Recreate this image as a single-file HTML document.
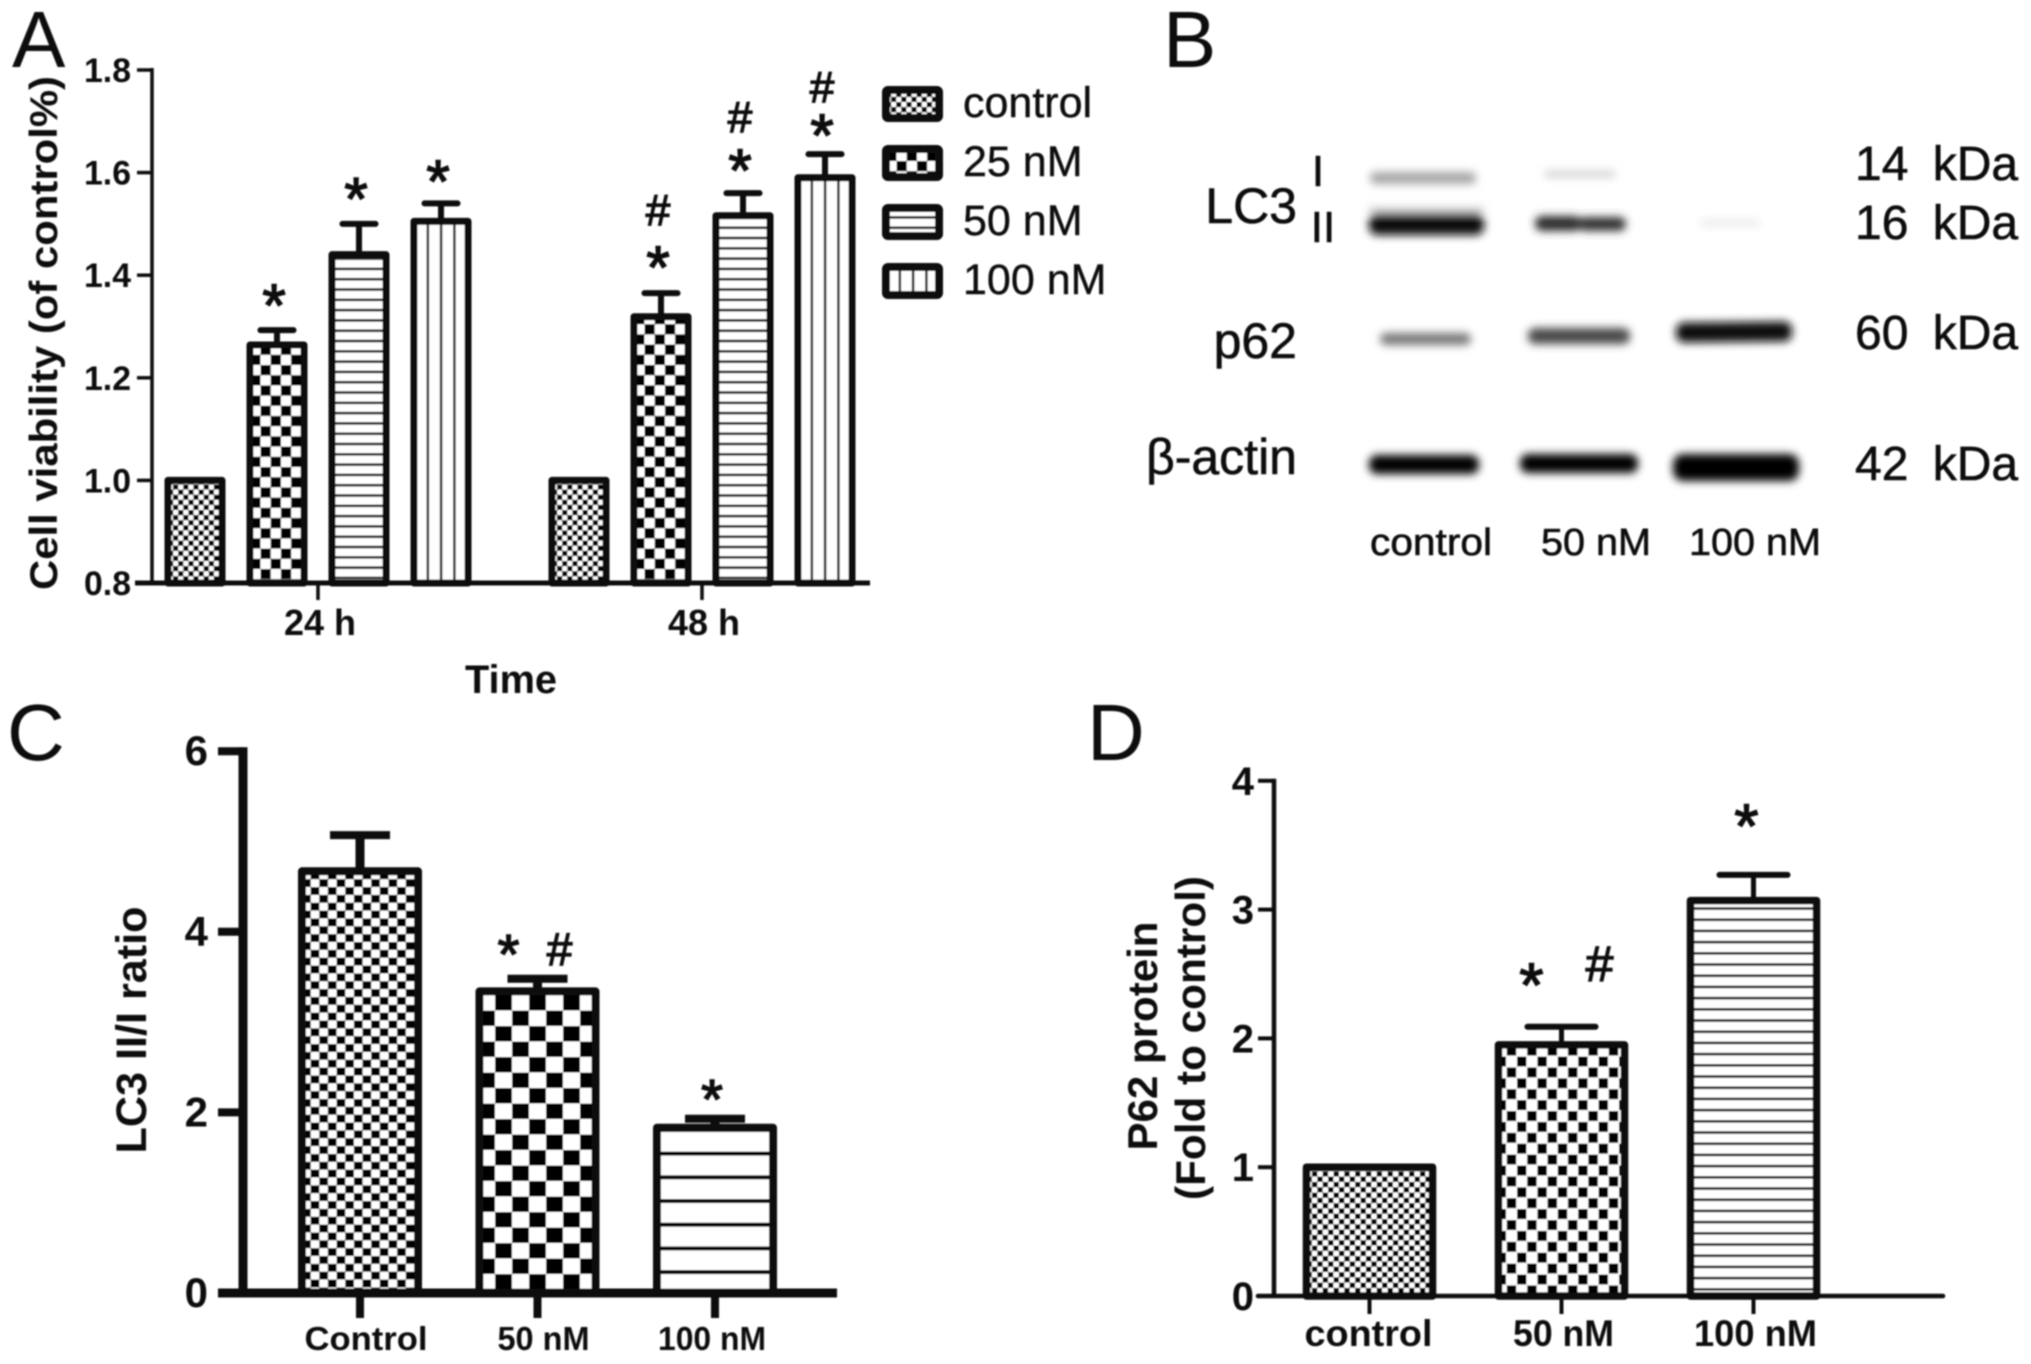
<!DOCTYPE html>
<html lang="en">
<head>
<meta charset="utf-8">
<title>Cell viability, LC3 and p62 figure</title>
<style>
html,body{margin:0;padding:0;background:#fff;}
svg{display:block;font-family:"Liberation Sans",sans-serif;}
</style>
</head>
<body>
<svg id="fig" xmlns="http://www.w3.org/2000/svg" width="2031" height="1364" viewBox="0 0 2031 1364">
<defs id="defs">
  <pattern id="a-fine" patternUnits="userSpaceOnUse" width="10.2" height="10.2"><rect width="10.2" height="10.2" fill="#fff"/><rect width="5.1" height="5.1" fill="#000"/><rect x="5.1" y="5.1" width="5.1" height="5.1" fill="#000"/></pattern>
  <pattern id="a-check" patternUnits="userSpaceOnUse" width="20.4" height="20.4" y="365"><rect width="20.4" height="20.4" fill="#fff"/><rect width="10.2" height="10.2" fill="#000"/><rect x="10.2" y="10.2" width="10.2" height="10.2" fill="#000"/></pattern>
  <pattern id="a-hline" patternUnits="userSpaceOnUse" width="10.3" height="10.3" y="236.7"><rect width="10.3" height="10.3" fill="#fff"/><rect width="10.3" height="2.6" fill="#222"/></pattern>
  <pattern id="a-vline" patternUnits="userSpaceOnUse" width="13.3" height="14"><rect width="13.3" height="14" fill="#fff"/><rect width="2.6" height="14" fill="#333"/></pattern>
  <pattern id="c-fine" patternUnits="userSpaceOnUse" width="17.3" height="15.7"><rect width="17.3" height="15.7" fill="#fff"/><rect width="8.65" height="7.85" fill="#000"/><rect x="8.65" y="7.85" width="8.65" height="7.85" fill="#000"/></pattern>
  <pattern id="c-check" patternUnits="userSpaceOnUse" width="34" height="31" y="995"><rect width="34" height="31" fill="#fff"/><rect width="17" height="15.5" fill="#000"/><rect x="17" y="15.5" width="17" height="15.5" fill="#000"/></pattern>
  <pattern id="c-hline" patternUnits="userSpaceOnUse" width="24" height="23.7" y="14"><rect width="24" height="23.7" fill="#fff"/><rect width="24" height="4" fill="#000"/></pattern>
  <pattern id="d-fine" patternUnits="userSpaceOnUse" width="10.8" height="10.6"><rect width="10.8" height="10.6" fill="#fff"/><rect width="5.4" height="5.3" fill="#000"/><rect x="5.4" y="5.3" width="5.4" height="5.3" fill="#000"/></pattern>
  <pattern id="d-check" patternUnits="userSpaceOnUse" width="20.4" height="21.8" y="1056"><rect width="20.4" height="21.8" fill="#fff"/><rect x="0.5" y="0.5" width="9.4" height="10" fill="#000"/><rect x="10.7" y="11.4" width="9.4" height="10" fill="#000"/></pattern>
  <pattern id="d-hline" patternUnits="userSpaceOnUse" width="11" height="11.2"><rect width="11" height="11.2" fill="#fff"/><rect width="11" height="2.6" fill="#222"/></pattern>
  <filter id="soft" filterUnits="userSpaceOnUse" x="0" y="0" width="2031" height="1364"><feGaussianBlur stdDeviation="0.7"/></filter>
  <filter id="band-blur" filterUnits="userSpaceOnUse" x="1300" y="100" width="560" height="420"><feGaussianBlur stdDeviation="4.2"/></filter>
</defs>
<rect width="2031" height="1364" fill="#fff"/>
<g id="root" filter="url(#soft)" fill="#111">
  <g font-size="80">
    <text x="12" y="67">A</text>
    <text x="1163" y="67">B</text>
    <text x="7" y="760">C</text>
    <text x="1087" y="760">D</text>
  </g>
  <g id="panel-a"></g>
  <g id="panel-a-legend"></g>
  <g id="panel-b">
    <g filter="url(#band-blur)">
      <rect x="1370" y="172" width="106" height="12" rx="5" fill="#a6a6a6"/>
      <rect x="1544" y="170" width="72" height="8" rx="4" fill="#d8d8d8"/>
      <rect x="1369" y="208" width="115" height="5" rx="2" fill="#bbb"/>
      <rect x="1369" y="214" width="115" height="21" rx="8" fill="#0c0c0c"/>
      <rect x="1535" y="216" width="46" height="15" rx="7" fill="#2c2c2c"/>
      <rect x="1578" y="217" width="48" height="14" rx="7" fill="#333"/>
      <rect x="1700" y="219" width="60" height="8" rx="3" fill="#eee"/>
      <rect x="1380" y="333" width="91" height="12" rx="6" fill="#777"/>
      <rect x="1528" y="328" width="102" height="16" rx="7" fill="#484848"/>
      <rect x="1676" y="322" width="116" height="20" rx="8" fill="#0c0c0c" transform="rotate(-0.6 1734 332)"/>
      <rect x="1369" y="455" width="110" height="19" rx="8" fill="#000"/>
      <rect x="1520" y="454" width="118" height="19" rx="8" fill="#000"/>
      <rect x="1673" y="454" width="126" height="27" rx="10" fill="#000"/>
    </g>
    <g stroke="#111" stroke-width="0.6">
      <text x="1297" y="223" font-size="50" text-anchor="end">LC3</text>
      <text x="1297" y="358" font-size="50" text-anchor="end">p62</text>
      <text x="1297" y="474" font-size="50" text-anchor="end">β-actin</text>
      <text x="1318" y="186" font-size="44" text-anchor="middle">I</text>
      <text x="1323" y="242" font-size="44" text-anchor="middle">II</text>
      <text x="1855" y="180" font-size="48" word-spacing="11">14 kDa</text>
      <text x="1855" y="239" font-size="48" word-spacing="11">16 kDa</text>
      <text x="1855" y="349" font-size="48" word-spacing="11">60 kDa</text>
      <text x="1855" y="480" font-size="48" word-spacing="11">42 kDa</text>
      <text x="1431" y="555" font-size="38" text-anchor="middle" textLength="122" lengthAdjust="spacingAndGlyphs">control</text>
      <text x="1596" y="555" font-size="38" text-anchor="middle" textLength="110" lengthAdjust="spacingAndGlyphs">50 nM</text>
      <text x="1755" y="555" font-size="38" text-anchor="middle" textLength="132" lengthAdjust="spacingAndGlyphs">100 nM</text>
    </g>
  </g>
  <g id="panel-c"></g>
  <g id="panel-d"></g>
</g>
</svg>
<script>
// Panel A data
const aGroups = ["24 h", "48 h"];
const aSeries = ["control", "25 nM", "50 nM", "100 nM"];
const aValues24 = [1.0, 1.264, 1.44, 1.505];
const aValues48 = [1.0, 1.319, 1.516, 1.59];
const aErrors24 = [0, 0.029, 0.06, 0.035];
const aErrors48 = [0, 0.046, 0.044, 0.046];
const aMarks24 = ["", "*", "*", "*"];
const aMarks48 = ["", "*#", "*#", "*#"];
const aTicks = [0.8, 1.0, 1.2, 1.4, 1.6, 1.8];
const aTickLabels = ["0.8", "1.0", "1.2", "1.4", "1.6", "1.8"];
// Panel C data
const cCategories = ["Control", "50 nM", "100 nM"];
const cValues = [4.67, 3.34, 1.83];
const cErrors = [0.4, 0.14, 0.1];
const cMarks = ["", "*#", "*"];
const cTicks = [0, 2, 4, 6];
const cTickLabels = ["0", "2", "4", "6"];
// Panel D data
const dCategories = ["control", "50 nM", "100 nM"];
const dValues = [1.0, 1.95, 3.07];
const dErrors = [0, 0.14, 0.2];
const dMarks = ["", "*#", "*"];
const dTicks = [0, 1, 2, 3, 4];
const dTickLabels = ["0", "1", "2", "3", "4"];

const NS = "http://www.w3.org/2000/svg";
let patCount = 0;
function mk(parent, tag, attrs) {
  const el = document.createElementNS(NS, tag);
  for (const k in attrs) el.setAttribute(k, attrs[k]);
  parent.appendChild(el);
  return el;
}
function line(parent, x1, y1, x2, y2, w, cap) {
  return mk(parent, "line", {x1: x1, y1: y1, x2: x2, y2: y2, stroke: "#0a0a0a", "stroke-width": w, "stroke-linecap": cap || "butt"});
}
function label(parent, str, x, y, size, bold, anchor, len) {
  const t = mk(parent, "text", {x: x, y: y, "font-size": size, "text-anchor": anchor || "middle"});
  if (bold) t.setAttribute("font-weight", "bold");
  if (len) { t.setAttribute("textLength", len); t.setAttribute("lengthAdjust", "spacingAndGlyphs"); }
  t.textContent = str;
  return t;
}
function anchoredPattern(id, left, phase) {
  const clone = document.getElementById(id).cloneNode(true);
  patCount += 1;
  clone.id = id + "-" + patCount;
  clone.setAttribute("x", left + phase);
  document.getElementById("defs").appendChild(clone);
  return clone.id;
}
function drawBar(parent, cx, v, err, y, base, o, pat, phase, name) {
  const left = cx - o.w / 2;
  const b = mk(parent, "rect", {x: left, y: y(v), width: o.w, height: base - y(v), fill: "url(#" + anchoredPattern(pat, left, phase) + ")", stroke: "#0a0a0a", "stroke-width": o.sw, "stroke-linejoin": "round"});
  
  
  if (err > 0) {
    const stem = line(parent, cx, y(v), cx, y(v + err), o.stem);
    
    
    const cap = line(parent, cx - o.cap / 2, y(v + err), cx + o.cap / 2, y(v + err), o.capw, o.round ? "round" : "butt");
    
    
  }
}
function star(parent, x, cy, size) {
  const t = label(parent, "*", x, cy + size * 0.48, size, false);
  t.setAttribute("stroke", "#111");
  t.setAttribute("stroke-width", "1.5");
  
  
}
function hash(parent, x, cy, size) {
  const t = label(parent, "#", x, cy + size * 0.36, size, false);
  t.setAttribute("stroke", "#111");
  t.setAttribute("stroke-width", "1.3");
  
  
}

/* ---------- Panel A ---------- */
(function () {
  const g = document.getElementById("panel-a");
  const base = 583;
  const yA = v => base - (v - 0.8) * 513;
  const xA = (grp, s) => 195 + grp * 384 + s * 82;
  const pats = ["a-fine", "a-check", "a-hline", "a-vline"];
  const phases = [0, 10.5, 0, 12.5];
  const starGap = [[0, 33, 33, 30], [0, 34, 31, 27]];
  const hashGap = [[0, 0, 0, 0], [0, 84, 77, 68]];
  const o = {w: 54, sw: 7, stem: 6, cap: 33, capw: 6, round: true};
  const vals = [aValues24, aValues48];
  const errs = [aErrors24, aErrors48];
  const marks = [aMarks24, aMarks48];
  vals.forEach((row, gi) => row.forEach((v, si) => {
    drawBar(g, xA(gi, si), v, errs[gi][si], yA, base, o, pats[si], phases[si], "bar-" + aGroups[gi].replace(" ", "") + "-s" + si);
    const top = yA(v + errs[gi][si]);
    const m = marks[gi][si];
    if (m.includes("*")) star(g, xA(gi, si) - 3, top - starGap[gi][si], 60);
    if (m.includes("#")) hash(g, xA(gi, si) - 3, top - hashGap[gi][si], 44);
  }));
  const axis = mk(g, "g", {});
  
  
  line(axis, 152, yA(1.8) - 2, 152, base, 3.5);
  aTicks.forEach((t, i) => {
    line(axis, 137, yA(t), 152, yA(t), 3.5);
    const l = label(axis, aTickLabels[i], 131, yA(t) + 12, 34, true, "end", 47);
    
    
  });
  const xaxis = mk(g, "g", {});
  
  
  line(xaxis, 135, base, 870, base, 5);
  aGroups.forEach((c, i) => {
    const cx = (xA(i, 0) + xA(i, 3)) / 2;
    line(xaxis, cx, base, cx, 600, 3.5);
    const l = label(xaxis, c, cx + 2, 635, 36, true, "middle", 72);
    
    
  });
  const xt = label(g, "Time", 511, 693, 40, true, "middle", 92);
  
  
  const yt = label(g, "Cell viability (of control%)", 0, 0, 39, true, "middle", 514);
  yt.setAttribute("transform", "translate(57 333) rotate(-90)");
  
  

  const lg = document.getElementById("panel-a-legend");
  const rowY = i => 90 + i * 59;
  aSeries.forEach((s, i) => {
    const r = mk(lg, "rect", {x: 886, y: rowY(i), width: 53, height: 28, rx: 2, fill: "url(#" + anchoredPattern(pats[i], 886, phases[i]) + ")", stroke: "#0a0a0a", "stroke-width": 8, "stroke-linejoin": "round"});
    
    
    const t = label(lg, s, 963, rowY(i) + 27, 43, false, "start");
    t.setAttribute("stroke", "#111");
    t.setAttribute("stroke-width", "0.4");
    
    
  });
})();

/* ---------- Panel C ---------- */
(function () {
  const g = document.getElementById("panel-c");
  const base = 1293;
  const yC = v => base - v * 90.3;
  const xC = i => 360 + i * 177.5;
  const pats = ["c-fine", "c-check", "c-hline"];
  const phases = [0, 15.5, 0];
  const o = {w: 116, sw: 8, stem: 9, cap: 60, capw: 8, round: false};
  cValues.forEach((v, i) => {
    drawBar(g, xC(i), v, cErrors[i], yC, base, o, pats[i], phases[i], "bar-" + cCategories[i].replace(" ", ""));
    const top = yC(v + cErrors[i]);
    if (cMarks[i] === "*#") {
      star(g, xC(i) - 29, top - 32, 56);
      hash(g, xC(i) + 22, top - 30, 46);
    } else if (cMarks[i] === "*") {
      star(g, xC(i) - 3, top - 27, 56);
    }
  });
  const axis = mk(g, "g", {});
  
  
  line(axis, 243, yC(6) - 4, 243, base, 9);
  cTicks.forEach((t, i) => {
    line(axis, 218, yC(t), 243, yC(t), 8);
    const l = label(axis, cTickLabels[i], 208, yC(t) + 14, 42, true, "end");
    
    
  });
  const xaxis = mk(g, "g", {});
  
  
  line(xaxis, 218, base, 837, base, 9);
  const cLabelWidths = [123, 92, 108];
  cCategories.forEach((c, i) => {
    line(xaxis, xC(i), base, xC(i), 1318, 8);
    const l = label(xaxis, c, xC(i) + (i === 2 ? -3 : 6), 1350, 33, true, "middle", cLabelWidths[i]);
    
    
  });
  const yt = label(g, "LC3 II/I ratio", 0, 0, 43, true, "middle", 247);
  yt.setAttribute("transform", "translate(146 1030) rotate(-90)");
  
  
})();

/* ---------- Panel D ---------- */
(function () {
  const g = document.getElementById("panel-d");
  const base = 1296;
  const yD = v => base - v * 128.8;
  const xD = i => 1369.5 + i * 192;
  const pats = ["d-fine", "d-check", "d-hline"];
  const phases = [0, 18, 0];
  const o = {w: 126, sw: 7.5, stem: 5, cap: 68, capw: 6, round: true};
  dValues.forEach((v, i) => {
    drawBar(g, xD(i), v, dErrors[i], yD, base, o, pats[i], phases[i], "bar-" + dCategories[i].replace(" ", ""));
    const top = yD(v + dErrors[i]);
    if (dMarks[i] === "*#") {
      star(g, xD(i) - 30, top - 50, 62);
      hash(g, xD(i) + 38, top - 64, 50);
    } else if (dMarks[i] === "*") {
      star(g, xD(i) - 7, top - 57, 62);
    }
  });
  const axis = mk(g, "g", {});
  
  
  line(axis, 1274, yD(4) - 2, 1274, base, 4.5);
  dTicks.forEach((t, i) => {
    line(axis, 1258, yD(t), 1274, yD(t), 4);
    const l = label(axis, dTickLabels[i], 1254, yD(t) + 14, 40, true, "end");
    
    
  });
  const xaxis = mk(g, "g", {});
  
  
  line(xaxis, 1258, base, 1943, base, 4.5, "round");
  const dLabelWidths = [128, 101, 123];
  dCategories.forEach((c, i) => {
    line(xaxis, xD(i), base, xD(i), 1314, 4);
    const l = label(xaxis, c, xD(i) + (i === 0 ? -1 : 2), 1346, 37, true, "middle", dLabelWidths[i]);
    
    
  });
  const yt1 = label(g, "P62 protein", 0, 0, 42, true, "middle", 229);
  yt1.setAttribute("transform", "translate(1157 1036) rotate(-90)");
  
  
  const yt2 = label(g, "(Fold to control)", 0, 0, 42, true, "middle", 324);
  yt2.setAttribute("transform", "translate(1205 1038) rotate(-90)");
  
  
})();
</script>
</body>
</html>
